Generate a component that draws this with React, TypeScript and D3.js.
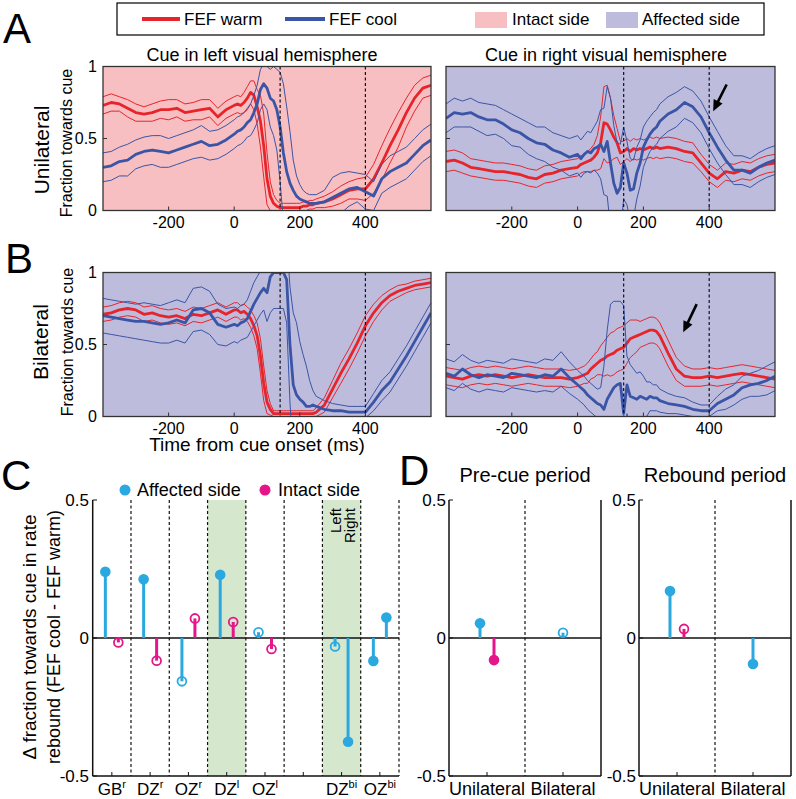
import React from "react";
import * as d3 from "d3";

const FONT = "'Liberation Sans', Arial, Helvetica, sans-serif";
const WARM = "#e8242b";
const COOL = "#3a55a6";
const INTACT_BG = "#f7bfc1";
const AFFECTED_BG = "#bebcdd";
const CYAN = "#2aa9e0";
const MAGENTA = "#e5168a";
const GREEN = "#d5e8cd";

// time axis (ms from cue onset) shared by all traces
const times = [
  -400, -375, -350, -325, -300, -275, -250, -225, -200, -175, -150, -125, -100, -75, -50, -25,
  0, 10, 20, 30, 40, 50, 60, 70, 80, 90, 100, 110, 120, 130, 140, 150, 160, 170, 180, 190, 200, 210, 220, 230, 240, 250,
  275, 300, 325, 350, 375, 400, 425, 450, 475, 500, 525, 550, 575, 600,
];
const timeTicks = [-200, 0, 200, 400];
const cueLines = [140, 400];

// A, cue left (intact side)
const uniLeftWarm = [
  0.73, 0.75, 0.74, 0.71, 0.68, 0.67, 0.68, 0.7, 0.7, 0.71, 0.68, 0.69, 0.7, 0.71, 0.65, 0.7,
  0.73, 0.74, 0.73, 0.75, 0.78, 0.82, 0.8, 0.72, 0.62, 0.45, 0.22, 0.1, 0.05, 0.03, 0.02, 0.02, 0.02, 0.02, 0.02, 0.02, 0.02, 0.03, 0.03, 0.04, 0.04, 0.05,
  0.06, 0.08, 0.11, 0.14, 0.15, 0.15, 0.22, 0.33, 0.45, 0.56, 0.68, 0.78, 0.85, 0.87,
];
const uniLeftWarmErr = [
  0.06, 0.06, 0.05, 0.06, 0.06, 0.05, 0.06, 0.06, 0.07, 0.06, 0.06, 0.06, 0.07, 0.06, 0.06, 0.06,
  0.06, 0.06, 0.06, 0.07, 0.08, 0.08, 0.1, 0.12, 0.18, 0.22, 0.18, 0.1, 0.06, 0.04, 0.03, 0.03, 0.03, 0.03, 0.03, 0.03, 0.03, 0.03, 0.03, 0.03, 0.03, 0.03,
  0.04, 0.05, 0.06, 0.06, 0.07, 0.08, 0.1, 0.12, 0.12, 0.12, 0.1, 0.09, 0.07, 0.07,
];
const uniLeftCool = [
  0.3, 0.31, 0.34, 0.35, 0.39, 0.41, 0.42, 0.41, 0.4, 0.42, 0.44, 0.46, 0.48, 0.45, 0.46, 0.49,
  0.53, 0.55, 0.56, 0.58, 0.61, 0.63, 0.68, 0.74, 0.84, 0.88, 0.85, 0.78, 0.76, 0.7, 0.58, 0.4, 0.27, 0.19, 0.14, 0.1, 0.08, 0.07, 0.06, 0.05, 0.05, 0.05,
  0.06, 0.09, 0.12, 0.15, 0.16, 0.13, 0.1, 0.22, 0.27, 0.3, 0.33, 0.39, 0.45, 0.49,
];
const uniLeftCoolErr = [
  0.1, 0.1, 0.1, 0.11, 0.1, 0.1, 0.1, 0.11, 0.1, 0.1, 0.1, 0.1, 0.11, 0.1, 0.1, 0.1,
  0.1, 0.1, 0.1, 0.1, 0.1, 0.11, 0.12, 0.13, 0.14, 0.14, 0.15, 0.2, 0.24, 0.28, 0.38, 0.48, 0.45, 0.36, 0.21, 0.14, 0.1, 0.07, 0.06, 0.06, 0.06, 0.06,
  0.08, 0.14, 0.14, 0.12, 0.1, 0.12, 0.1, 0.1, 0.11, 0.11, 0.11, 0.11, 0.11, 0.11,
];

// A, cue right (affected side)
const uniRightWarm = [
  0.34, 0.35, 0.33, 0.3, 0.29, 0.28, 0.27, 0.27, 0.26, 0.25, 0.23, 0.22, 0.25, 0.26, 0.28, 0.29,
  0.3, 0.32, 0.33, 0.34, 0.35, 0.37, 0.4, 0.47, 0.61, 0.6, 0.56, 0.51, 0.47, 0.4, 0.41, 0.43, 0.41, 0.43, 0.42, 0.43, 0.42, 0.43, 0.44, 0.43, 0.44, 0.43,
  0.44, 0.43, 0.41, 0.4, 0.33, 0.26, 0.22, 0.27, 0.26, 0.28, 0.27, 0.3, 0.32, 0.33,
];
const uniRightWarmErr = [
  0.07, 0.07, 0.07, 0.06, 0.06, 0.06, 0.06, 0.06, 0.06, 0.06, 0.06, 0.06, 0.06, 0.06, 0.06, 0.06,
  0.06, 0.06, 0.06, 0.07, 0.08, 0.09, 0.12, 0.18, 0.25, 0.27, 0.22, 0.15, 0.1, 0.08, 0.07, 0.07, 0.07, 0.07, 0.07, 0.07, 0.07, 0.07, 0.07, 0.07, 0.07, 0.07,
  0.07, 0.07, 0.07, 0.07, 0.06, 0.06, 0.06, 0.06, 0.06, 0.06, 0.06, 0.06, 0.06, 0.06,
];
const uniRightCool = [
  0.64, 0.68, 0.67, 0.68, 0.65, 0.63, 0.63, 0.6, 0.56, 0.54, 0.5, 0.47, 0.46, 0.42, 0.4, 0.37,
  0.39, 0.36, 0.39, 0.41, 0.4, 0.43, 0.44, 0.46, 0.41, 0.48, 0.33, 0.19, 0.12, 0.16, 0.33, 0.26, 0.14, 0.15, 0.26, 0.33, 0.44, 0.49, 0.53, 0.56, 0.58, 0.62,
  0.67, 0.7, 0.75, 0.72, 0.65, 0.54, 0.44, 0.35, 0.28, 0.28, 0.26, 0.3, 0.33, 0.35,
];
const uniRightCoolErr = [
  0.1, 0.1, 0.09, 0.1, 0.1, 0.11, 0.1, 0.1, 0.11, 0.1, 0.11, 0.11, 0.12, 0.12, 0.12, 0.13,
  0.13, 0.13, 0.13, 0.14, 0.14, 0.15, 0.18, 0.24, 0.3, 0.38, 0.45, 0.4, 0.35, 0.3, 0.25, 0.22, 0.22, 0.2, 0.18, 0.16, 0.14, 0.13, 0.12, 0.12, 0.12, 0.12,
  0.12, 0.12, 0.11, 0.11, 0.11, 0.11, 0.11, 0.1, 0.1, 0.1, 0.1, 0.1, 0.1, 0.1,
];

// B, cue left
const biLeftWarm = [
  0.71, 0.72, 0.74, 0.75, 0.74, 0.71, 0.72, 0.7, 0.69, 0.7, 0.68, 0.71, 0.7, 0.72, 0.74, 0.71,
  0.74, 0.74, 0.72, 0.73, 0.71, 0.68, 0.63, 0.56, 0.42, 0.23, 0.1, 0.05, 0.02, 0.02, 0.02, 0.02, 0.02, 0.02, 0.02, 0.02, 0.02, 0.02, 0.02, 0.02, 0.02, 0.03,
  0.08, 0.19, 0.3, 0.4, 0.51, 0.63, 0.72, 0.79, 0.84, 0.87, 0.89, 0.91, 0.92, 0.93,
];
const biLeftWarmErr = [
  0.05, 0.05, 0.05, 0.05, 0.05, 0.05, 0.05, 0.05, 0.05, 0.05, 0.05, 0.05, 0.05, 0.05, 0.05, 0.05,
  0.05, 0.05, 0.05, 0.05, 0.05, 0.06, 0.07, 0.09, 0.12, 0.12, 0.08, 0.04, 0.02, 0.02, 0.02, 0.02, 0.02, 0.02, 0.02, 0.02, 0.02, 0.02, 0.02, 0.02, 0.02, 0.03,
  0.05, 0.06, 0.07, 0.07, 0.07, 0.07, 0.06, 0.05, 0.04, 0.04, 0.03, 0.03, 0.03, 0.03,
];
const biLeftCool = [
  0.7, 0.69, 0.68, 0.67, 0.66, 0.66, 0.65, 0.64, 0.65, 0.67, 0.65, 0.74, 0.75, 0.72, 0.64, 0.62,
  0.64, 0.63, 0.65, 0.66, 0.68, 0.73, 0.78, 0.82, 0.86, 0.89, 0.86, 0.97, 1.0, 1.0, 1.0, 1.0, 0.95, 0.5, 0.22, 0.15, 0.12, 0.1, 0.07, 0.07, 0.08, 0.07,
  0.05, 0.04, 0.04, 0.03, 0.03, 0.03, 0.1, 0.18, 0.24, 0.33, 0.42, 0.52, 0.62, 0.72,
];
const biLeftCoolErr = [
  0.12, 0.12, 0.12, 0.12, 0.12, 0.13, 0.13, 0.13, 0.14, 0.14, 0.14, 0.15, 0.15, 0.15, 0.14, 0.13,
  0.12, 0.12, 0.12, 0.12, 0.13, 0.14, 0.15, 0.15, 0.15, 0.15, 0.2, 0.25, 0.25, 0.25, 0.25, 0.25, 0.3, 0.4, 0.5, 0.5, 0.4, 0.33, 0.28, 0.18, 0.1, 0.07,
  0.06, 0.05, 0.04, 0.04, 0.04, 0.04, 0.06, 0.07, 0.07, 0.07, 0.07, 0.07, 0.07, 0.07,
];

// B, cue right
const biRightWarm = [
  0.28, 0.27, 0.26, 0.28, 0.29, 0.28, 0.29, 0.28, 0.27, 0.28, 0.29, 0.28, 0.27, 0.27, 0.27, 0.26,
  0.27, 0.28, 0.29, 0.3, 0.33, 0.35, 0.37, 0.39, 0.4, 0.42, 0.43, 0.44, 0.46, 0.47, 0.48, 0.51, 0.54, 0.55, 0.56, 0.57, 0.58, 0.59, 0.6, 0.6, 0.59, 0.56,
  0.44, 0.33, 0.28, 0.27, 0.27, 0.28, 0.27, 0.28, 0.29, 0.3, 0.29, 0.28, 0.27, 0.26,
];
const biRightWarmErr = [
  0.06, 0.06, 0.06, 0.06, 0.06, 0.06, 0.06, 0.06, 0.06, 0.06, 0.06, 0.06, 0.06, 0.06, 0.06, 0.06,
  0.06, 0.06, 0.06, 0.07, 0.07, 0.08, 0.08, 0.1, 0.12, 0.13, 0.15, 0.15, 0.15, 0.15, 0.15, 0.14, 0.13, 0.12, 0.11, 0.09, 0.09, 0.09, 0.09, 0.09, 0.09, 0.09,
  0.09, 0.08, 0.07, 0.06, 0.06, 0.06, 0.06, 0.06, 0.06, 0.06, 0.06, 0.06, 0.06, 0.06,
];
const biRightCool = [
  0.3, 0.28, 0.33, 0.29, 0.27, 0.29, 0.28, 0.27, 0.3, 0.29, 0.28, 0.27, 0.29, 0.28, 0.33, 0.27,
  0.22, 0.2, 0.18, 0.15, 0.13, 0.11, 0.09, 0.08, 0.05, 0.12, 0.16, 0.2, 0.22, 0.23, 0.02, 0.22, 0.14, 0.13, 0.12, 0.14, 0.13, 0.12, 0.14, 0.13, 0.13, 0.11,
  0.09, 0.08, 0.07, 0.05, 0.04, 0.04, 0.09, 0.12, 0.15, 0.2, 0.22, 0.23, 0.25, 0.28,
];
const biRightCoolErr = [
  0.1, 0.1, 0.1, 0.1, 0.1, 0.1, 0.1, 0.1, 0.1, 0.1, 0.1, 0.1, 0.11, 0.11, 0.12, 0.11,
  0.1, 0.1, 0.1, 0.1, 0.1, 0.1, 0.1, 0.12, 0.3, 0.48, 0.62, 0.6, 0.58, 0.57, 0.75, 0.2, 0.22, 0.2, 0.18, 0.17, 0.15, 0.12, 0.1, 0.09, 0.09, 0.08,
  0.07, 0.06, 0.06, 0.05, 0.04, 0.04, 0.05, 0.07, 0.07, 0.08, 0.08, 0.09, 0.1, 0.1,
];

// C: per-session rebound differences
const cNames = ["GB", "DZ", "OZ", "DZ", "OZ", "", "DZ", "OZ"];
const cSups = ["r", "r", "r", "l", "l", "", "bi", "bi"];
const cShaded = [3, 6];
const cFirst = [0.24, 0.213, -0.157, 0.229, 0.021, null, -0.031, -0.083];
const cFirstFilled = [true, true, false, true, false, false, false, true];
const cSecond = [-0.016, -0.082, 0.071, 0.058, -0.04, null, -0.376, 0.074];
const cSecondSide = ["intact", "intact", "intact", "intact", "intact", "", "affected", "affected"];
const cSecondFilled = [false, false, false, false, false, false, true, true];

// D: averages
const dGroups = ["Unilateral", "Bilateral"];
const preAffected = [0.053, 0.019];
const preAffectedFilled = [true, false];
const preIntact = [-0.08, null];
const preIntactFilled = [true, false];
const rebAffected = [0.17, -0.094];
const rebAffectedFilled = [true, true];
const rebIntact = [0.033, null];
const rebIntactFilled = [false, false];
const stemTicks = [-0.5, 0, 0.5];

function Traces({ mean, err, color, x, y }) {
  const line = d3.line<number>().x((_, i) => x(times[i])).y((d) => y(d));
  const hi = mean.map((m, i) => m + err[i]);
  const lo = mean.map((m, i) => m - err[i]);
  return (
    <g fill="none" stroke={color} strokeLinejoin="round">
      <path d={line(hi) || ""} strokeWidth={1} />
      <path d={line(lo) || ""} strokeWidth={1} />
      <path d={line(mean) || ""} strokeWidth={2.8} />
    </g>
  );
}

function TracePanel({ id, left, right, top, bottom, bg, warm, warmErr, cool, coolErr, yLabels, arrow }: any) {
  const x = d3.scaleLinear().domain([-400, 600]).range([left, right]);
  const y = d3.scaleLinear().domain([0, 1]).range([bottom, top]);
  let arrowEl = null;
  if (arrow) {
    const [tx, ty] = [x(arrow.tip[0]), y(arrow.tip[1])];
    const [sx, sy] = [x(arrow.tail[0]), y(arrow.tail[1])];
    const len = Math.hypot(tx - sx, ty - sy);
    const ux = (tx - sx) / len, uy = (ty - sy) / len;
    const bx = tx - ux * 11, by = ty - uy * 11;
    const head = `${tx},${ty} ${bx - uy * 5},${by + ux * 5} ${bx + uy * 5},${by - ux * 5}`;
    arrowEl = (
      <g>
        <line x1={sx} y1={sy} x2={bx + ux * 2} y2={by + uy * 2} stroke="#000" strokeWidth={2.6} />
        <polygon points={head} fill="#000" />
      </g>
    );
  }
  return (
    <g>
      <defs>
        <clipPath id={id}>
          <rect x={left} y={top} width={right - left} height={bottom - top} />
        </clipPath>
      </defs>
      <rect x={left} y={top} width={right - left} height={bottom - top} fill={bg} />
      <g clipPath={`url(#${id})`}>
        <Traces mean={warm} err={warmErr} color={WARM} x={x} y={y} />
        <Traces mean={cool} err={coolErr} color={COOL} x={x} y={y} />
      </g>
      {cueLines.map((t) => (
        <line key={t} x1={x(t)} x2={x(t)} y1={top} y2={bottom} stroke="#111" strokeWidth={1.2} strokeDasharray="3,2.5" />
      ))}
      {arrowEl}
      <rect x={left} y={top} width={right - left} height={bottom - top} fill="none" stroke="#333" strokeWidth={1.3} />
      {timeTicks.map((t) => (
        <g key={t}>
          <line x1={x(t)} x2={x(t)} y1={bottom} y2={bottom - 4} stroke="#333" strokeWidth={1} />
          <text x={x(t)} y={bottom + 17.5} textAnchor="middle" fontSize={16}>{t}</text>
        </g>
      ))}
      {[0, 0.5, 1].map((v) => (
        <g key={v}>
          <line x1={left} x2={left + 4} y1={y(v)} y2={y(v)} stroke="#333" strokeWidth={1} />
          {yLabels && (
            <text x={left - 6} y={y(v)} textAnchor="end" dominantBaseline="central" fontSize={16}>{v}</text>
          )}
        </g>
      ))}
    </g>
  );
}

function Stem({ cx, v, color, filled, y }: any) {
  return (
    <g>
      <line x1={cx} x2={cx} y1={y(0)} y2={y(v)} stroke={color} strokeWidth={3} />
      {filled ? (
        <circle cx={cx} cy={y(v)} r={5.3} fill={color} />
      ) : (
        <circle cx={cx} cy={y(v)} r={4.4} fill="none" stroke={color} strokeWidth={1.8} />
      )}
    </g>
  );
}

function PanelC() {
  const x = d3.scaleBand<number>().domain(d3.range(cNames.length)).range([92.7, 399]);
  const y = d3.scaleLinear().domain([-0.5, 0.5]).range([776, 500]);
  const bw = x.bandwidth();
  const off = 6.5;
  return (
    <g>
      {cShaded.map((i) => (
        <rect key={i} x={x(i)} y={y(0.5)} width={bw} height={y(-0.5) - y(0.5)} fill={GREEN} />
      ))}
      {d3.range(1, cNames.length + 1).map((i) => (
        <line key={i} x1={92.7 + i * bw} x2={92.7 + i * bw} y1={y(0.5)} y2={y(-0.5)} stroke="#111" strokeWidth={1.2} strokeDasharray="3,2.5" />
      ))}
      <line x1={92.7} x2={399} y1={y(0)} y2={y(0)} stroke="#111" strokeWidth={1.5} />
      <line x1={92.7} x2={92.7} y1={y(0.5)} y2={y(-0.5)} stroke="#111" strokeWidth={1.5} />
      <line x1={92.7} x2={399} y1={y(-0.5)} y2={y(-0.5)} stroke="#111" strokeWidth={1.5} />
      {stemTicks.map((v) => (
        <g key={v}>
          <line x1={92.7} x2={97} y1={y(v)} y2={y(v)} stroke="#111" />
          <text x={89} y={y(v)} textAnchor="end" dominantBaseline="central" fontSize={17}>{v}</text>
        </g>
      ))}
      {cNames.map((name, i) => {
        const cx = (x(i) as number) + bw / 2;
        return (
          <g key={i}>
            <line x1={cx} x2={cx} y1={y(-0.5)} y2={y(-0.5) - 4} stroke="#111" />
            {name && (
              <text x={cx} y={795} textAnchor="middle" fontSize={17}>
                {name}
                <tspan fontSize={11} dy={-7}>{cSups[i]}</tspan>
              </text>
            )}
            {cFirst[i] !== null && <Stem cx={cx - off} v={cFirst[i]} color={CYAN} filled={cFirstFilled[i]} y={y} />}
            {cSecond[i] !== null && (
              <Stem cx={cx + off} v={cSecond[i]} color={cSecondSide[i] === "intact" ? MAGENTA : CYAN} filled={cSecondFilled[i]} y={y} />
            )}
          </g>
        );
      })}
      <text transform="translate(341,508) rotate(-90)" textAnchor="end" fontSize={15}>Left</text>
      <text transform="translate(355,508) rotate(-90)" textAnchor="end" fontSize={15}>Right</text>
      <circle cx={125} cy={490} r={5.5} fill={CYAN} />
      <text x={137} y={490} dominantBaseline="central" fontSize={18}>Affected side</text>
      <circle cx={265} cy={490} r={5.5} fill={MAGENTA} />
      <text x={278} y={490} dominantBaseline="central" fontSize={18}>Intact side</text>
      <text transform="translate(29,637) rotate(-90)" textAnchor="middle" dominantBaseline="central" fontSize={19}>
        Δ fraction towards cue in rate
      </text>
      <text transform="translate(54,637) rotate(-90)" textAnchor="middle" dominantBaseline="central" fontSize={18}>
        rebound (FEF cool - FEF warm)
      </text>
    </g>
  );
}

function PanelD({ left, right, title, affected, affectedFilled, intact, intactFilled }: any) {
  const x = d3.scaleBand<number>().domain(d3.range(dGroups.length)).range([left, right]);
  const y = d3.scaleLinear().domain([-0.5, 0.5]).range([776, 500]);
  const bw = x.bandwidth();
  const mid = (left + right) / 2;
  return (
    <g>
      <text x={mid} y={482} textAnchor="middle" fontSize={20}>{title}</text>
      <line x1={mid} x2={mid} y1={y(0.5)} y2={y(-0.5)} stroke="#111" strokeWidth={1.2} strokeDasharray="3,2.5" />
      <line x1={left} x2={right} y1={y(0)} y2={y(0)} stroke="#111" strokeWidth={1.5} />
      <line x1={left} x2={left} y1={y(0.5)} y2={y(-0.5)} stroke="#111" strokeWidth={1.5} />
      <line x1={right} x2={right} y1={y(0.5)} y2={y(-0.5)} stroke="#111" strokeWidth={1.5} />
      <line x1={left} x2={right} y1={y(-0.5)} y2={y(-0.5)} stroke="#111" strokeWidth={1.5} />
      {stemTicks.map((v) => (
        <g key={v}>
          <line x1={left} x2={left + 4} y1={y(v)} y2={y(v)} stroke="#111" />
          <text x={left - 3} y={y(v)} textAnchor="end" dominantBaseline="central" fontSize={17}>{v}</text>
        </g>
      ))}
      {dGroups.map((g, i) => {
        const cx = (x(i) as number) + bw / 2;
        const both = affected[i] !== null && intact[i] !== null;
        const off = both ? 7 : 0;
        return (
          <g key={g}>
            <line x1={cx} x2={cx} y1={y(-0.5)} y2={y(-0.5) - 4} stroke="#111" />
            <text x={cx} y={795} textAnchor="middle" fontSize={18}>{g}</text>
            {affected[i] !== null && <Stem cx={cx - off} v={affected[i]} color={CYAN} filled={affectedFilled[i]} y={y} />}
            {intact[i] !== null && <Stem cx={cx + off} v={intact[i]} color={MAGENTA} filled={intactFilled[i]} y={y} />}
          </g>
        );
      })}
    </g>
  );
}

export default function App() {
  const L = { left: 103, right: 431 };
  const R = { left: 446, right: 775 };
  const rowA = { top: 66.5, bottom: 210.5 };
  const rowB = { top: 272.5, bottom: 416.5 };
  return (
    <svg width={796} height={799} style={{ position: "absolute", left: 0, top: 0, background: "#fff" }} fontFamily={FONT}>
      <rect width={796} height={799} fill="#fff" />
      {/* legend */}
      <rect x={117} y={3} width={647} height={32} fill="#fff" stroke="#000" strokeWidth={1.2} />
      <line x1={142} x2={180} y1={19} y2={19} stroke={WARM} strokeWidth={4} />
      <text x={184} y={19} dominantBaseline="central" fontSize={17}>FEF warm</text>
      <line x1={285} x2={325} y1={19} y2={19} stroke={COOL} strokeWidth={4} />
      <text x={329} y={19} dominantBaseline="central" fontSize={17}>FEF cool</text>
      <rect x={475} y={12} width={32} height={16} fill={INTACT_BG} />
      <text x={512} y={19} dominantBaseline="central" fontSize={17}>Intact side</text>
      <rect x={606} y={12} width={32} height={16} fill={AFFECTED_BG} />
      <text x={642} y={19} dominantBaseline="central" fontSize={17}>Affected side</text>

      <text x={3} y={43} fontSize={42}>A</text>
      <text x={5} y={273} fontSize={42}>B</text>
      <text x={1} y={490} fontSize={42}>C</text>
      <text x={399} y={485} fontSize={42}>D</text>

      <text x={262} y={61} textAnchor="middle" fontSize={18}>Cue in left visual hemisphere</text>
      <text x={606} y={61} textAnchor="middle" fontSize={18}>Cue in right visual hemisphere</text>

      <text transform="translate(41,150) rotate(-90)" textAnchor="middle" dominantBaseline="central" fontSize={21}>Unilateral</text>
      <text transform="translate(66,143) rotate(-90)" textAnchor="middle" dominantBaseline="central" fontSize={16}>Fraction towards cue</text>
      <text transform="translate(40,342) rotate(-90)" textAnchor="middle" dominantBaseline="central" fontSize={21}>Bilateral</text>
      <text transform="translate(67,342) rotate(-90)" textAnchor="middle" dominantBaseline="central" fontSize={16}>Fraction towards cue</text>

      <TracePanel id="clipAL" {...L} {...rowA} bg={INTACT_BG} warm={uniLeftWarm} warmErr={uniLeftWarmErr} cool={uniLeftCool} coolErr={uniLeftCoolErr} yLabels />
      <TracePanel id="clipAR" {...R} {...rowA} bg={AFFECTED_BG} warm={uniRightWarm} warmErr={uniRightWarmErr} cool={uniRightCool} coolErr={uniRightCoolErr}
        arrow={{ tail: [453, 0.875], tip: [412, 0.69] }} />
      <TracePanel id="clipBL" {...L} {...rowB} bg={AFFECTED_BG} warm={biLeftWarm} warmErr={biLeftWarmErr} cool={biLeftCool} coolErr={biLeftCoolErr} yLabels />
      <TracePanel id="clipBR" {...R} {...rowB} bg={AFFECTED_BG} warm={biRightWarm} warmErr={biRightWarmErr} cool={biRightCool} coolErr={biRightCoolErr}
        arrow={{ tail: [362, 0.78], tip: [321, 0.585] }} />
      <text x={257} y={450.5} textAnchor="middle" fontSize={19}>Time from cue onset (ms)</text>

      <PanelC />
      <PanelD left={449} right={601} title="Pre-cue period" affected={preAffected} affectedFilled={preAffectedFilled} intact={preIntact} intactFilled={preIntactFilled} />
      <PanelD left={639} right={791} title="Rebound period" affected={rebAffected} affectedFilled={rebAffectedFilled} intact={rebIntact} intactFilled={rebIntactFilled} />
    </svg>
  );
}
